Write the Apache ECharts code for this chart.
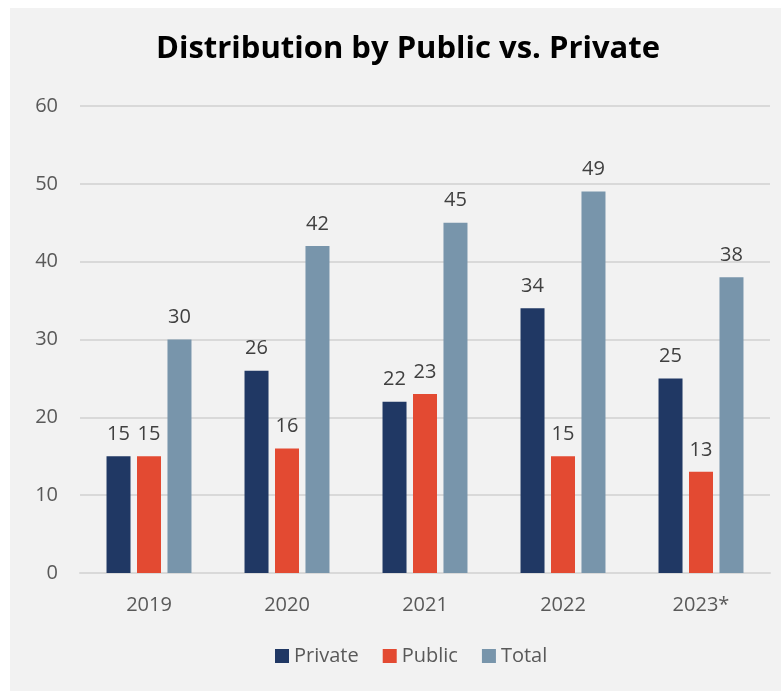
<!DOCTYPE html>
<html>
<head>
<meta charset="utf-8">
<script src="https://cdn.jsdelivr.net/npm/echarts@6/dist/echarts.min.js"></script>
<style>
html,body{margin:0;padding:0;background:#fff;}
#chart{width:781px;height:691px;}
</style>
</head>
<body>
<div id="chart"></div>
<script>
const categories = ['2019', '2020', '2021', '2022', '2023*'];
const privateVals = [15, 26, 22, 34, 25];
const publicVals = [15, 16, 23, 15, 13];
const totalVals = [30, 42, 45, 49, 38];
const yTicks = {min: 0, max: 60, interval: 10};

const FONT = '"Open Sans", "Noto Sans", sans-serif';
const TXT = '#595959';
const chart = echarts.init(document.getElementById('chart'), null, {renderer: 'canvas'});
const lbl = {show: true, position: 'top', distance: 12, color: '#404040', fontSize: 20, fontFamily: FONT};
chart.setOption({
  backgroundColor: '#ffffff',
  graphic: [{type: 'rect', z: -10, silent: true, shape: {x: 10, y: 8, width: 771, height: 683}, style: {fill: '#f2f2f2'}}],
  title: {text: 'Distribution by Public vs. Private', left: 151, top: 29,
    textStyle: {fontFamily: FONT, fontWeight: 'bold', fontSize: 31, color: '#000'}},
  legend: {bottom: 20, left: 270, itemWidth: 14, itemHeight: 14, itemGap: 24, icon: 'rect',
    textStyle: {fontFamily: FONT, fontSize: 20, color: TXT}},
  grid: {left: 80, right: 11, top: 106, bottom: 118},
  xAxis: {type: 'category', data: categories,
    axisLine: {lineStyle: {color: '#d9d9d9', width: 2}}, axisTick: {show: false},
    axisLabel: {color: TXT, fontSize: 20, fontFamily: FONT, margin: 22}},
  yAxis: {type: 'value', min: yTicks.min, max: yTicks.max, interval: yTicks.interval,
    axisLabel: {color: TXT, fontSize: 20, fontFamily: FONT, margin: 22},
    splitLine: {lineStyle: {color: '#d9d9d9', width: 2}}},
  series: [
    {name: 'Private', type: 'bar', data: privateVals, itemStyle: {color: '#203864'}, barWidth: 24, barGap: '27%', label: lbl},
    {name: 'Public', type: 'bar', data: publicVals, itemStyle: {color: '#e34a32'}, barWidth: 24, barGap: '27%', label: lbl},
    {name: 'Total', type: 'bar', data: totalVals, itemStyle: {color: '#7895ab'}, barWidth: 24, barGap: '27%', label: lbl}
  ]
});
</script>
</body>
</html>
